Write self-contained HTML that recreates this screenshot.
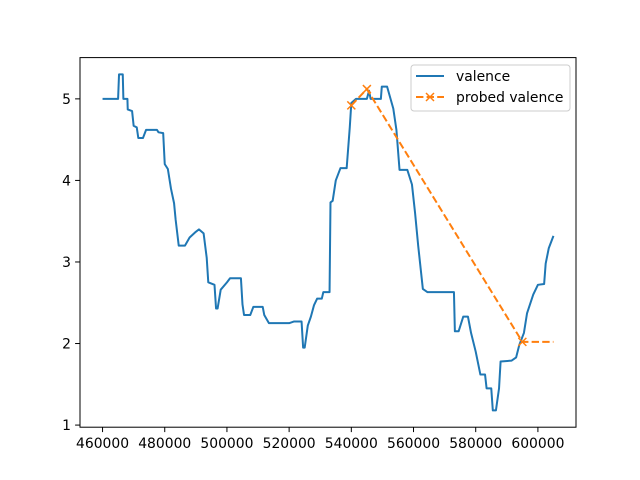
<!DOCTYPE html>
<html><head><meta charset="utf-8"><style>
body{margin:0;background:#fff}
svg{display:block;font-family:"DejaVu Sans","Liberation Sans",sans-serif}
</style></head><body>
<svg id="chart" width="640" height="480">
<rect width="640" height="480" fill="#fff"/>
<g id="plot"></g>
</svg>
<script>
const xs=[460000,465000,465300,465500,466500,466700,468000,468100,469500,470000,471000,471500,473000,474000,477500,478000,479500,480000,481000,482000,483000,483500,484500,486500,488000,490000,491000,492500,493500,494000,496000,496500,497000,498000,500000,501000,504500,505000,505500,507500,508500,511500,512000,513500,520000,521500,524000,524500,525000,526000,527000,528000,529000,530500,531000,533000,533300,534000,535000,536500,538500,539500,540000,541500,545000,545700,546200,549500,549800,551500,553500,554500,555500,558000,559500,560500,561500,563000,564500,569500,573000,573300,574500,576000,577500,578500,580000,581500,583000,583500,585000,585500,586500,587500,588000,591500,593000,594000,595500,596500,598500,600000,602000,602500,603500,605000];
const ys=[5.0,5.0,5.3,5.3,5.3,5.0,5.0,4.87,4.85,4.67,4.65,4.52,4.52,4.62,4.62,4.59,4.58,4.2,4.14,3.9,3.72,3.52,3.2,3.2,3.3,3.37,3.4,3.35,3.05,2.75,2.72,2.43,2.43,2.66,2.75,2.8,2.8,2.48,2.35,2.35,2.45,2.45,2.35,2.25,2.25,2.27,2.27,1.95,1.95,2.22,2.33,2.47,2.55,2.55,2.63,2.63,3.73,3.75,4.0,4.15,4.15,4.65,4.95,5.0,5.0,5.1,5.0,5.0,5.15,5.15,4.88,4.62,4.13,4.13,3.95,3.6,3.2,2.67,2.63,2.63,2.63,2.15,2.15,2.33,2.33,2.13,1.9,1.62,1.62,1.45,1.45,1.18,1.18,1.45,1.78,1.79,1.83,1.98,2.13,2.37,2.6,2.72,2.73,2.98,3.17,3.32];
const probeX=[540000,545000,595000,605000];
const probeY=[4.92,5.12,2.02,2.02];
const probeMarked=[true,true,true,false];
const xTicks=[460000,480000,500000,520000,540000,560000,580000,600000];
const yTicks=[1,2,3,4,5];
const L=80,R=576,T=57.6,B=427.2,xmin=452750,xmax=612250,ymin=0.974,ymax=5.506;
const sx=v=>L+(v-xmin)/(xmax-xmin)*(R-L);
const sy=v=>B-(v-ymin)/(ymax-ymin)*(B-T);
const NS='http://www.w3.org/2000/svg',g=document.getElementById('plot');
function mk(t,a,txt){const e=document.createElementNS(NS,t);for(const k in a)e.setAttribute(k,a[k]);if(txt!==undefined)e.textContent=txt;g.appendChild(e);return e;}
let e;
e=mk('polyline',{points:xs.map((x,i)=>sx(x)+','+sy(ys[i])).join(' '),fill:'none',stroke:'#1f77b4','stroke-width':2,'stroke-linejoin':'round'});


e=mk('polyline',{points:probeX.map((x,i)=>sx(x)+','+sy(probeY[i])).join(' '),fill:'none',stroke:'#ff7f0e','stroke-width':2,'stroke-dasharray':'7.4,3.2'});


probeX.forEach((x,i)=>{if(!probeMarked[i])return;const cx=sx(x),cy=sy(probeY[i]);
e=mk('path',{d:`M${cx-4},${cy-4}L${cx+4},${cy+4}M${cx-4},${cy+4}L${cx+4},${cy-4}`,stroke:'#ff7f0e','stroke-width':1.5});

});
e=mk('rect',{x:L,y:T,width:R-L,height:B-T,fill:'none',stroke:'#000','stroke-width':1});


xTicks.forEach(t=>{const x=sx(t);
e=mk('line',{x1:x,x2:x,y1:B,y2:B+4.9,stroke:'#000','stroke-width':1});


e=mk('text',{x:x,y:B+21,'text-anchor':'middle','font-size':13.9},String(t));

});
yTicks.forEach(t=>{const y=sy(t);
e=mk('line',{x1:L-4.9,x2:L,y1:y,y2:y,stroke:'#000','stroke-width':1});


e=mk('text',{x:L-9,y:y+5,'text-anchor':'end','font-size':13.9},String(t));

});
e=mk('rect',{x:411,y:65,width:159,height:46,rx:3,fill:'#fff','fill-opacity':0.8,stroke:'#ccc','stroke-width':1});


e=mk('line',{x1:416,x2:444,y1:76,y2:76,stroke:'#1f77b4','stroke-width':2});


e=mk('text',{x:456,y:81,'font-size':13.9},'valence');


e=mk('line',{x1:416,x2:444,y1:97,y2:97,stroke:'#ff7f0e','stroke-width':2,'stroke-dasharray':'7.4,3.2'});


e=mk('path',{d:'M426,93L434,101M426,101L434,93',stroke:'#ff7f0e','stroke-width':1.5});


e=mk('text',{x:456,y:102,'font-size':13.9},'probed valence');


</script>
</body></html>
